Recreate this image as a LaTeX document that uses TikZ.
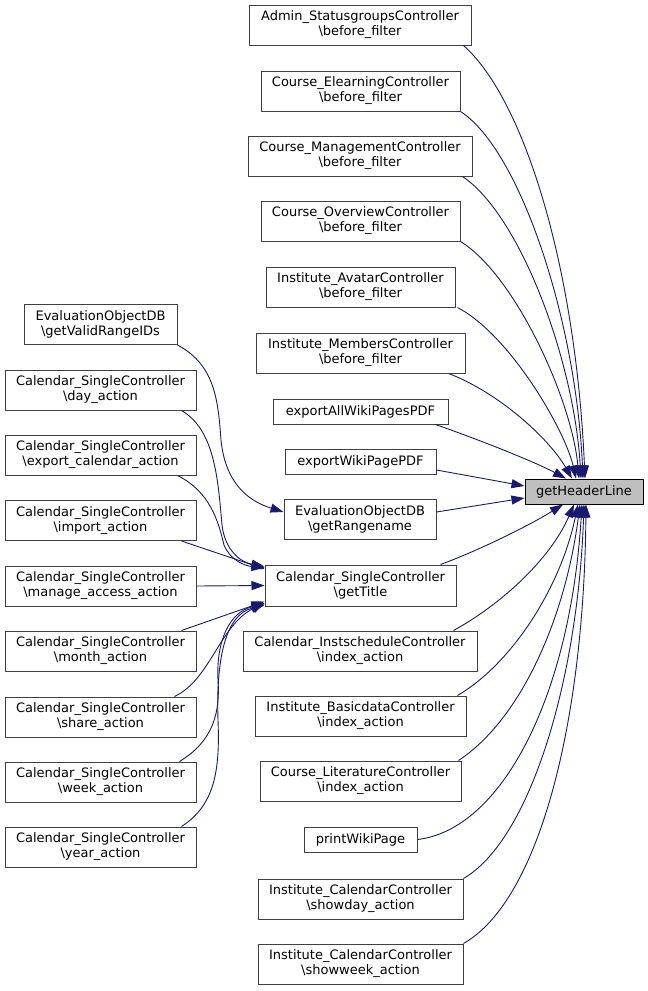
\documentclass[tikz,border=0pt]{standalone}
\usepackage{fontspec}
\setmainfont{DejaVu Sans}
\usetikzlibrary{arrows.meta}
\definecolor{nodeborder}{RGB}{64,64,64}
\definecolor{edgecol}{RGB}{25,25,112}
\definecolor{hlfill}{RGB}{191,191,191}
\tikzset{
  box/.style={draw=nodeborder, line width=1pt, fill=white, inner sep=0pt, align=center,
    minimum height=40pt, font=\fontsize{13}{15}\selectfont},
  sbox/.style={box, minimum height=25pt},
  hbox/.style={sbox, draw=black, fill=hlfill},
  edge/.style={draw=edgecol, line width=0.9pt, -{Triangle[length=13pt,width=9pt]}, fill=none}
}
\begin{document}
\begin{tikzpicture}[x=1pt,y=-1pt]
\useasboundingbox (0,0) rectangle (648,991);
% middle column
\node[box, minimum width=222pt] (adm) at (360,25) {Admin\_StatusgroupsController\\\textbackslash before\_filter};
\node[box, minimum width=199pt] (elearn) at (360.5,91) {Course\_ElearningController\\\textbackslash before\_filter};
\node[box, minimum width=224pt] (mgmt) at (360,156) {Course\_ManagementController\\\textbackslash before\_filter};
\node[box, minimum width=199pt] (overview) at (360.5,221) {Course\_OverviewController\\\textbackslash before\_filter};
\node[box, minimum width=189pt] (avatar) at (360.5,287) {Institute\_AvatarController\\\textbackslash before\_filter};
\node[box, minimum width=209pt] (members) at (360.5,353) {Institute\_MembersController\\\textbackslash before\_filter};
\node[sbox, minimum width=175pt] (expall) at (360.5,411.5) {exportAllWikiPagesPDF};
\node[sbox, minimum width=151pt] (expwiki) at (360.5,461.5) {exportWikiPagePDF};
\node[box, minimum width=152pt] (rangename) at (360,519) {EvaluationObjectDB\\\textbackslash getRangename};
\node[box, minimum width=191pt, minimum height=41pt] (gettitle) at (360.5,585.5) {Calendar\_SingleController\\\textbackslash getTitle};
\node[box, minimum width=234pt] (instsched) at (360,651) {Calendar\_InstscheduleController\\\textbackslash index\_action};
\node[box, minimum width=211pt] (basicdata) at (360.5,716) {Institute\_BasicdataController\\\textbackslash index\_action};
\node[box, minimum width=201pt] (literature) at (360.5,781) {Course\_LiteratureController\\\textbackslash index\_action};
\node[sbox, minimum width=113pt] (printwiki) at (360.5,839.5) {printWikiPage};
\node[box, minimum width=205pt] (showday) at (360.5,899) {Institute\_CalendarController\\\textbackslash showday\_action};
\node[box, minimum width=205pt] (showweek) at (360.5,964) {Institute\_CalendarController\\\textbackslash showweek\_action};
% target
\node[hbox, minimum width=118pt] (ghl) at (584,491.5) {getHeaderLine};
% left column
\node[box, minimum width=153pt] (validrange) at (100.5,324.5) {EvaluationObjectDB\\\textbackslash getValidRangeIDs};
\node[box, minimum width=191pt] (day) at (100.5,390) {Calendar\_SingleController\\\textbackslash day\_action};
\node[box, minimum width=191pt] (export) at (100.5,455) {Calendar\_SingleController\\\textbackslash export\_calendar\_action};
\node[box, minimum width=191pt] (import) at (100.5,520.5) {Calendar\_SingleController\\\textbackslash import\_action};
\node[box, minimum width=191pt] (manage) at (100.5,586) {Calendar\_SingleController\\\textbackslash manage\_access\_action};
\node[box, minimum width=191pt] (month) at (100.5,651) {Calendar\_SingleController\\\textbackslash month\_action};
\node[box, minimum width=191pt] (share) at (100.5,717) {Calendar\_SingleController\\\textbackslash share\_action};
\node[box, minimum width=191pt] (week) at (100.5,782) {Calendar\_SingleController\\\textbackslash week\_action};
\node[box, minimum width=191pt] (year) at (100.5,847) {Calendar\_SingleController\\\textbackslash year\_action};

% edges into getHeaderLine from above
\draw[edge] ([xshift=-8pt]adm.south east) .. controls (525,100) and (576,270) .. ([xshift=1pt]ghl.north);
\draw[edge] (elearn.south east) .. controls (520,150) and (576,320) .. ([xshift=-1pt]ghl.north);
\draw[edge] ([xshift=-10pt]mgmt.south east) .. controls (520,215) and (574,360) .. ([xshift=-3pt]ghl.north);
\draw[edge] (overview.south east) .. controls (515,275) and (572,400) .. ([xshift=-5pt]ghl.north);
\draw[edge] ([xshift=2pt]avatar.south east) .. controls (510,335) and (565,430) .. ([xshift=-8pt]ghl.north);
\draw[edge] ([xshift=-17pt]members.south east) .. controls (500,393) and (550,440) .. ([xshift=-12pt]ghl.north);
\draw[edge] ([xshift=-13pt]expall.south east) .. controls (480,440) and (535,462) .. ([xshift=-18pt]ghl.north);
\draw[edge] ([yshift=-8.5pt]expwiki.east) -- ([yshift=5.5pt]ghl.west);
\draw[edge] ([yshift=7pt]rangename.east) -- ([yshift=-6.5pt]ghl.west);
% edges into getHeaderLine from below
\draw[edge] ([xshift=-16pt]gettitle.north east) .. controls (480,550) and (530,525) .. ([xshift=-21pt]ghl.south);
\draw[edge] ([xshift=-24pt]instsched.north east) .. controls (500,605) and (550,560) .. ([xshift=-10pt]ghl.south);
\draw[edge] ([xshift=-9pt]basicdata.north east) .. controls (510,665) and (560,590) .. ([xshift=-6pt]ghl.south);
\draw[edge] ([xshift=-3pt]literature.north east) .. controls (520,720) and (565,620) .. ([xshift=-4pt]ghl.south);
\draw[edge] (printwiki.east) .. controls (500,830) and (570,700) .. ([xshift=-2pt]ghl.south);
\draw[edge] (showday.north east) .. controls (530,840) and (578,680) .. (ghl.south);
\draw[edge] (showweek.north east) .. controls (540,900) and (584,720) .. ([xshift=2pt]ghl.south);
% left edges
\draw[edge] (validrange.south east) .. controls (215,365) and (218,400) .. (221,440) .. controls (225,480) and (245,500) .. ([yshift=7pt]rangename.west);
\draw[edge] ([xshift=-15pt]day.south east) .. controls (215,430) and (218,480) .. (222,525) .. controls (225,550) and (240,562) .. ([yshift=19pt]gettitle.west);
\draw[edge] ([xshift=-19pt]export.south east) .. controls (210,492) and (218,520) .. (224,545) .. controls (230,560) and (245,566) .. ([yshift=18pt]gettitle.west);
\draw[edge] ([xshift=-15pt]import.south east) -- ([yshift=16.5pt]gettitle.west);
\draw[edge] (manage.east) -- (gettitle.west);
\draw[edge] ([xshift=-15pt]month.north east) -- ([yshift=-16pt]gettitle.west);
\draw[edge] ([xshift=-22pt]share.north east) .. controls (210,680) and (220,625) .. ([yshift=-17.5pt]gettitle.west);
\draw[edge] ([xshift=-17pt]week.north east) .. controls (215,740) and (220,710) .. (218,680) .. controls (216,640) and (230,612) .. ([yshift=-18.5pt]gettitle.west);
\draw[edge] ([xshift=-15pt]year.north east) .. controls (215,805) and (220,770) .. (218,720) .. controls (216,660) and (225,615) .. ([yshift=-19.5pt]gettitle.west);
\end{tikzpicture}
\end{document}
